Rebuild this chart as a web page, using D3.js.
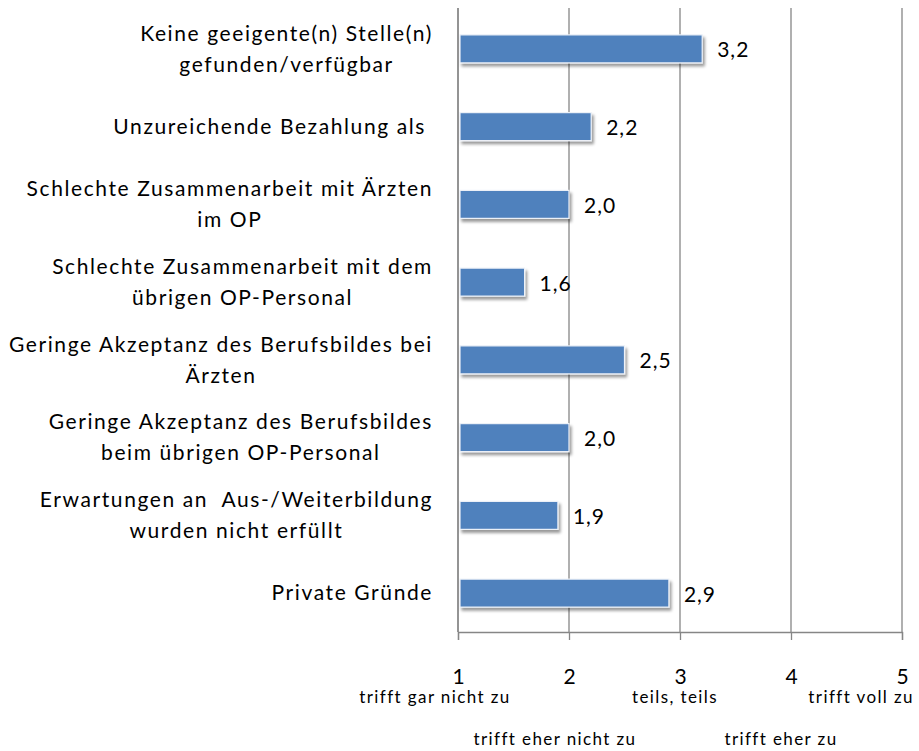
<!DOCTYPE html>
<html>
<head>
<meta charset="utf-8">
<script src="https://cdn.jsdelivr.net/npm/d3@7"></script>
<style>
  body { margin: 0; background: #fff; }
  svg text { font-family: Lato, "Open Sans", sans-serif; fill: #000; }
</style>
</head>
<body>
<div class="chart"></div>
<script>
// categories (each entry is the lines of one label)
var categories = [
    ["Keine geeigente(n) Stelle(n)", "gefunden/verfügbar"],
    ["Unzureichende Bezahlung als "],
    ["Schlechte Zusammenarbeit mit Ärzten", "im OP"],
    ["Schlechte Zusammenarbeit mit dem", "übrigen OP-Personal"],
    ["Geringe Akzeptanz des Berufsbildes bei", "Ärzten"],
    ["Geringe Akzeptanz des Berufsbildes", "beim übrigen OP-Personal"],
    ["Erwartungen an  Aus-/Weiterbildung", "wurden nicht erfüllt"],
    ["Private Gründe"]
];
var values = [3.2, 2.2, 2.0, 1.6, 2.5, 2.0, 1.9, 2.9];
var ticks = [1, 2, 3, 4, 5];
var scaleLabels = ["trifft gar nicht zu", "trifft eher nicht zu", "teils, teils", "trifft eher zu", "trifft voll zu"];

var W = 919, H = 751;
var margin = {top: 10, right: 17, bottom: 119, left: 458};
var width = W - margin.left - margin.right,
    height = H - margin.top - margin.bottom;

var x = d3.scaleLinear().domain([1, 5]).range([0, width]);
var y = d3.scaleBand().domain(d3.range(categories.length)).range([0, height])
    .paddingInner(0.64).paddingOuter(0.32);

var svg = d3.select(".chart").append("svg").attr("width", W).attr("height", H);

var defs = svg.append("defs");
var f = defs.append("filter").attr("id", "shadow").attr("x", "-10%").attr("y", "-30%").attr("width", "130%").attr("height", "190%");
f.append("feGaussianBlur").attr("in", "SourceAlpha").attr("stdDeviation", 1.6);
f.append("feOffset").attr("dx", 2).attr("dy", 2.5).attr("result", "off");
f.append("feComponentTransfer").append("feFuncA").attr("type", "linear").attr("slope", 0.4);
var merge = f.append("feMerge");
merge.append("feMergeNode");
merge.append("feMergeNode").attr("in", "SourceGraphic");

var canvas = svg.append("g").attr("transform", "translate(" + margin.left + "," + margin.top + ")");

// vertical gridlines
canvas.selectAll(".grid").data(ticks).enter().append("line")
    .attr("class", "grid")
    .attr("x1", function(d){ return x(d); }).attr("x2", function(d){ return x(d); })
    .attr("y1", -2).attr("y2", height)
    .attr("stroke", "#868686").attr("stroke-width", 1.3);

// bottom axis
var xAxis = d3.axisBottom(x).tickValues(ticks).tickSize(8).tickFormat(d3.format("d"));
var ax = canvas.append("g").attr("transform", "translate(0," + height + ")").call(xAxis);
ax.select(".domain").attr("stroke", "#868686").attr("stroke-width", 1.3);
ax.selectAll(".tick line").attr("stroke", "#868686").attr("stroke-width", 1.3);
ax.selectAll(".tick text").attr("y", 0).attr("dy", "52px")
    .style("font-size", "21px").style("font-family", "Lato, sans-serif");

// scale meaning labels below the numbers
var labelPos = [
    {dx: -23, dy: 71, anchor: "middle"},
    {dx: -14, dy: 113, anchor: "middle"},
    {dx: -5, dy: 71, anchor: "middle"},
    {dx: -10, dy: 113, anchor: "middle"},
    {dx: 12, dy: 71, anchor: "end"}
];
canvas.selectAll(".scale-label").data(scaleLabels).enter().append("text")
    .attr("class", "scale-label")
    .attr("x", function(d, i){ return x(ticks[i]) + labelPos[i].dx; })
    .attr("y", function(d, i){ return height + labelPos[i].dy; })
    .attr("text-anchor", function(d, i){ return labelPos[i].anchor; })
    .style("font-size", "17px")
    .style("letter-spacing", "1.4px")
    .text(function(d){ return d; });

// left axis line
canvas.append("line").attr("x1", 0).attr("x2", 0).attr("y1", -2).attr("y2", height)
    .attr("stroke", "#868686").attr("stroke-width", 1.3);

// bars
canvas.selectAll(".bar").data(values).enter().append("rect")
    .attr("class", "bar")
    .attr("x", x(1) + 2)
    .attr("y", function(d, i){ return y(i); })
    .attr("width", function(d){ return x(d) - x(1) - 2; })
    .attr("height", y.bandwidth())
    .attr("fill", "#4F81BD")
    .attr("stroke", "#eef2f8").attr("stroke-width", 1.2)
    .attr("filter", "url(#shadow)");

// value labels
canvas.selectAll(".val").data(values).enter().append("text")
    .attr("class", "val")
    .attr("x", function(d){ return x(d) + 15; })
    .attr("y", function(d, i){ return y(i) + y.bandwidth() / 2; })
    .attr("dy", "0.4em")
    .style("font-size", "21px")
    .style("letter-spacing", "1px")
    .text(function(d){ return d3.format(".1f")(d).replace(".", ","); });

// category labels: block right-aligned, lines centered inside block
var lh = 31;
var cat = canvas.selectAll(".cat").data(categories).enter().append("g")
    .attr("class", "cat")
    .attr("transform", function(d, i){ return "translate(-25," + (y(i) + y.bandwidth() / 2) + ")"; });
cat.each(function(lines){
    var g = d3.select(this);
    var tx = g.selectAll("text").data(lines).enter().append("text")
        .attr("y", function(d, j){ return (j - (lines.length - 1) / 2) * lh; })
        .attr("dy", "0.35em")
        .style("font-size", "21px")
        .style("letter-spacing", "1.6px")
        .style("white-space", "pre")
        .text(function(d){ return d; });
    var maxW = 0;
    tx.each(function(){ maxW = Math.max(maxW, this.getComputedTextLength()); });
    tx.attr("text-anchor", "middle").attr("x", -maxW / 2);
});
</script>
</body>
</html>
